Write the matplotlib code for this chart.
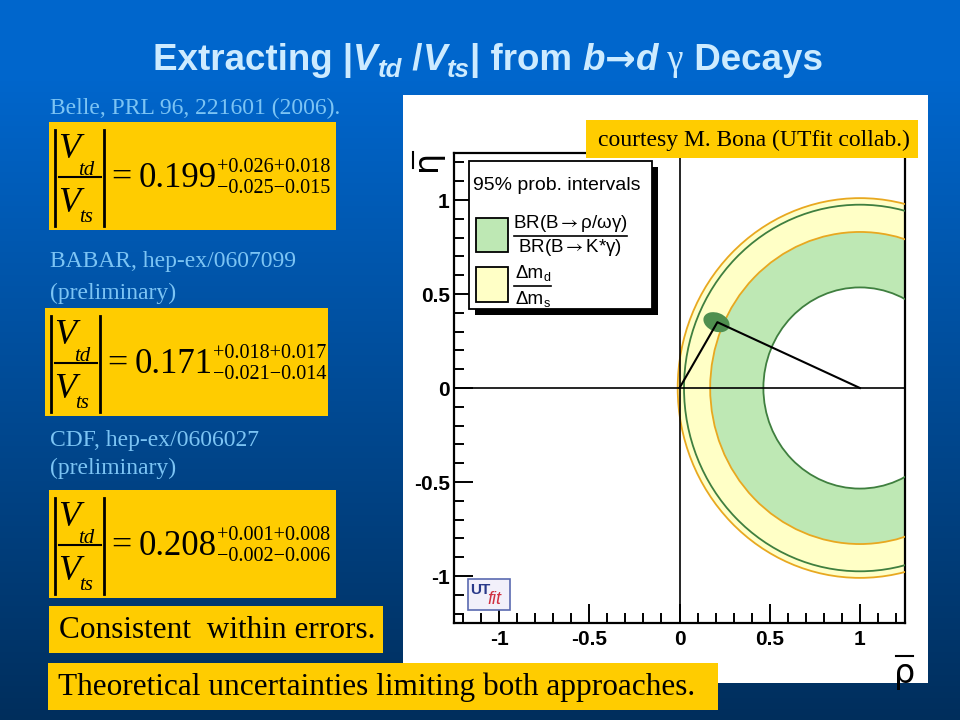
import numpy as np
import matplotlib
matplotlib.use("Agg")
import matplotlib.pyplot as plt
from matplotlib.patches import Rectangle, Wedge, Circle, Ellipse
from matplotlib.lines import Line2D

plt.rcParams['mathtext.fontset'] = 'stix'

W, H = 960, 720

# --- data ---
x_ticks = [-1, -0.5, 0, 0.5, 1]
x_labels = ['-1', '-0.5', '0', '0.5', '1']
y_ticks = [-1, -0.5, 0, 0.5, 1]
y_labels = ['-1', '-0.5', '0', '0.5', '1']
circle_center = (1.0, 0.0)
green_radii = (0.535, 0.975)    # BR(B->rho/omega gamma)/BR(B->K* gamma)
yellow_radii = (0.83, 1.01)     # dm_d / dm_s
apex = (0.21, 0.35)
apex_ellipse = (0.205, 0.35, 0.15, 0.10, -20)  # x, y, width, height, angle

sources = [('Belle, PRL 96, 221601 (2006).', ''),
           ('BABAR, hep-ex/0607099', '(preliminary)'),
           ('CDF, hep-ex/0606027', '(preliminary)')]
values = ['0.199', '0.171', '0.208']
err_up = ['+0.026+0.018', '+0.018+0.017', '+0.001+0.008']
err_dn = ['-0.025-0.015', '-0.021-0.014', '-0.002-0.006']

def fx(x):
    return x / W

def fy(y):
    return 1 - y / H

def ftext(x, y, s, **kw):
    return fig.text(fx(x), fy(y), s, **kw)

def fline(x0, y0, x1, y1, **kw):
    fig.lines.append(Line2D([fx(x0), fx(x1)], [fy(y0), fy(y1)],
                            transform=fig.transFigure, **kw))

def frect(x0, y0, x1, y1, **kw):
    fig.patches.append(Rectangle((fx(x0), fy(y1)), fx(x1 - x0), (y1 - y0) / H,
                                 transform=fig.transFigure, **kw))

fig = plt.figure(figsize=(9.6, 7.2), dpi=100)
renderer = fig.canvas.get_renderer()

# slide background
bg = fig.add_axes([0, 0, 1, 1], zorder=-10)
grad = np.ones((H, 1, 3))
top = np.array([0x00, 0x66, 0xCC]) / 255
bot = np.array([0x00, 0x2E, 0x5C]) / 255
t = np.clip((np.arange(H) - 80) / (H - 80), 0, 1)[:, None]
grad[:, 0, :] = top * (1 - t) + bot * t
bg.imshow(grad, aspect='auto', extent=[0, 1, 0, 1])
bg.axis('off')

# white plot panel
frect(403, 95, 928, 683, facecolor='white', edgecolor='none', zorder=-5)

yellow = '#FFCC00'
light_blue = '#7CC4F4'
sans = ['Liberation Sans', 'DejaVu Sans']
serif = ['Liberation Serif', 'DejaVu Serif']

# title, built piece by piece
title_parts = [
    ('Extracting |', 'normal', 'bold', 0, 26.5, sans),
    ('V', 'italic', 'bold', 0, 26.5, sans),
    ('td', 'italic', 'bold', -7, 18.5, sans),
    (' /', 'normal', 'bold', 0, 26.5, sans),
    ('V', 'italic', 'bold', 0, 26.5, sans),
    ('ts', 'italic', 'bold', -7, 18.5, sans),
    ('| from ', 'normal', 'bold', 0, 26.5, sans),
    ('b', 'italic', 'bold', 0, 26.5, sans),
    ('\u2192', 'normal', 'bold', 0, 26.5, ['DejaVu Sans']),
    ('d', 'italic', 'bold', 0, 26.5, sans),
    (' \u03b3', 'normal', 'normal', 0, 26.5, serif),
    (' Decays', 'normal', 'bold', 0, 26.5, sans),
]
xpos = 153
for txt, style, weight, dy, size, fam in title_parts:
    tt = ftext(xpos, 70 - dy, txt, color='#CDEBFF', fontsize=size,
               fontstyle=style, fontweight=weight, va='baseline', family=fam)
    xpos += tt.get_window_extent(renderer).width

# left column: measurements
box_pos = [(49, 122, 336), (45, 308, 328), (49, 490, 336)]
label_y = [(108, None), (262, 293), (440, 468)]
for i in range(3):
    l1, l2 = sources[i]
    ftext(50, label_y[i][0], l1, color=light_blue, fontsize=17, va='center', family=serif)
    if l2:
        ftext(50, label_y[i][1], l2, color=light_blue, fontsize=17, va='center', family=serif)
    x0, y0, x1 = box_pos[i]
    frect(x0, y0, x1, y0 + 108, facecolor=yellow, edgecolor='none', zorder=2)
    kw = dict(color='black', va='baseline', family=serif, zorder=3)
    # |V_td / V_ts|
    fline(x0 + 6, y0 + 8, x0 + 6, y0 + 104, color='black', lw=2, zorder=3)
    fline(x0 + 55, y0 + 8, x0 + 55, y0 + 104, color='black', lw=2, zorder=3)
    fline(x0 + 10, y0 + 55, x0 + 52, y0 + 55, color='black', lw=1.5, zorder=3)
    ftext(x0 + 9, y0 + 36, 'V', fontsize=26, fontstyle='italic', **kw)
    ftext(x0 + 29, y0 + 53, 'td', fontsize=15, fontstyle='italic', **kw)
    ftext(x0 + 9, y0 + 90, 'V', fontsize=26, fontstyle='italic', **kw)
    ftext(x0 + 30, y0 + 100, 'ts', fontsize=15, fontstyle='italic', **kw)
    ftext(x0 + 62, y0 + 65, '=', fontsize=26, **kw)
    v = ftext(x0 + 90, y0 + 65, values[i], fontsize=25, **kw)
    vx = x0 + 90 + v.get_window_extent(renderer).width
    ftext(vx, y0 + 50, err_up[i].replace('-', '\u2212'), fontsize=14.5, **kw)
    ftext(vx, y0 + 71, err_dn[i].replace('-', '\u2212'), fontsize=14.5, **kw)

# conclusion boxes
for (x0, y0, x1, y1, txt) in [(49, 606, 383, 653, 'Consistent  within errors.'),
                              (48, 663, 718, 710, 'Theoretical uncertainties limiting both approaches.')]:
    frect(x0, y0, x1, y1, facecolor=yellow, edgecolor='none', zorder=2)
    ftext(x0 + 10, (y0 + y1) / 2 + 1, txt, fontsize=22.5, color='black',
          va='center', family=serif, zorder=3)

# main plot
ax = fig.add_axes([fx(454), fy(623), fx(905 - 454), (623 - 153) / H], zorder=0)
ax.set_xlim(-1.25, 1.25)
ax.set_ylim(-1.25, 1.25)

g_in, g_out = green_radii
y_in, y_out = yellow_radii
ax.add_patch(Wedge(circle_center, g_out, 0, 360, width=g_out - g_in,
                   facecolor='#BEE8B4', edgecolor='none', zorder=1))
ax.add_patch(Wedge(circle_center, y_out, 0, 360, width=y_out - y_in,
                   facecolor='#FFFFC6', edgecolor='none', zorder=2))
for r in green_radii:
    ax.add_patch(Circle(circle_center, r, fill=False, edgecolor='#3F7F3F', lw=1.3, zorder=3))
for r in yellow_radii:
    ax.add_patch(Circle(circle_center, r, fill=False, edgecolor='#E8A820', lw=1.3, zorder=3))

ex, ey, ew, eh, ea = apex_ellipse
ax.add_patch(Ellipse((ex, ey), ew, eh, angle=ea, facecolor='#4F8F4F', edgecolor='none', zorder=4))
ax.plot([0, apex[0], circle_center[0]], [0, apex[1], 0], color='black', lw=1.5, zorder=5)

ax.axhline(0, color='black', lw=1.2, zorder=6)
ax.axvline(0, color='black', lw=1.2, zorder=6)

ax.set_xticks(x_ticks)
ax.set_xticklabels(x_labels)
ax.set_yticks(y_ticks)
ax.set_yticklabels(y_labels)
ax.set_xticks(np.arange(-1.2, 1.25, 0.1), minor=True)
ax.set_yticks(np.arange(-1.2, 1.25, 0.1), minor=True)
ax.tick_params(which='major', direction='in', length=14, width=1.4,
               top=False, right=False, labelsize=15)
ax.tick_params(axis='y', which='major', pad=3)
ax.tick_params(axis='x', which='major', pad=5)
ax.tick_params(which='minor', direction='in', length=7, width=1.4, top=False, right=False)
for lab in ax.get_xticklabels() + ax.get_yticklabels():
    lab.set_fontweight('bold')
    lab.set_family('Liberation Sans')
for s in ax.spines.values():
    s.set_linewidth(1.6)

# axis labels (rho-bar, eta-bar)
ftext(905, 683, '\u03c1', fontsize=24, ha='center', va='baseline', family=['DejaVu Sans'])
fline(896, 656, 913, 656, color='black', lw=1.5)
ftext(427, 160, '\u03b7', fontsize=24, ha='center', va='center', rotation=90,
      family=['DejaVu Sans'])
fline(413, 152, 413, 168, color='black', lw=1.5)

# legend
frect(475, 167, 658, 315, facecolor='black', edgecolor='none', zorder=7)
frect(469, 161, 652, 309, facecolor='white', edgecolor='black', lw=1.3, zorder=8)
ftext(473, 185, '95% prob. intervals', fontsize=14, va='center', family=sans, zorder=9)
frect(476, 218, 508, 252, facecolor='#BEE8B4', edgecolor='black', lw=1.3, zorder=9)
frect(476, 267, 508, 302, facecolor='#FFFFC6', edgecolor='black', lw=1.3, zorder=9)
ftext(570, 224, 'BR(B$\\rightarrow$\u03c1/\u03c9\u03b3)', fontsize=13.5, ha='center',
      va='center', family=sans, zorder=9)
ftext(570, 248, 'BR(B$\\rightarrow$K*\u03b3)', fontsize=13.5, ha='center',
      va='center', family=sans, zorder=9)
fline(514, 236, 627, 236, color='black', lw=1.2, zorder=9)
ftext(515, 273, '\u0394m', fontsize=13.5, ha='left', va='center', family=sans, zorder=9)
ftext(544, 278, 'd', fontsize=9, ha='left', va='center', family=sans, zorder=9)
ftext(515, 299, '\u0394m', fontsize=13.5, ha='left', va='center', family=sans, zorder=9)
ftext(544, 304, 's', fontsize=9, ha='left', va='center', family=sans, zorder=9)
fline(514, 286, 551, 286, color='black', lw=1.2, zorder=9)

# courtesy box
frect(586, 120, 918, 158, facecolor=yellow, edgecolor='none', zorder=9)
ftext(754, 140, 'courtesy M. Bona (UTfit collab.)', fontsize=17,
      ha='center', va='center', family=serif, zorder=10)

# UTfit logo
frect(468, 579, 510, 610, facecolor='#F2F0FA', edgecolor='#5A6AB0', lw=1.2, zorder=9)
ftext(470, 590, 'UT', fontsize=11, fontweight='bold', color='#2A3A8A',
      va='center', family=sans, zorder=10)
ftext(487, 599, 'fit', fontsize=13, fontstyle='italic', color='#D03040',
      va='center', family=sans, zorder=10)

fig.savefig('out.png', dpi=100)
